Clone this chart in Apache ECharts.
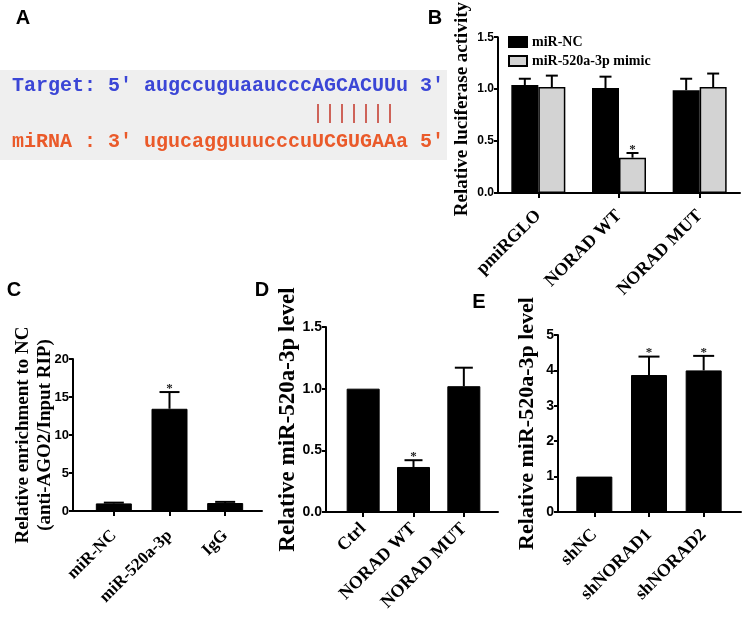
<!DOCTYPE html>
<html><head><meta charset="utf-8">
<script src="https://cdn.jsdelivr.net/npm/echarts@6/dist/echarts.min.js"></script>
<style>html,body{margin:0;padding:0;background:#fff}#chart{width:750px;height:627px}</style>
</head><body><div id="chart"></div>
<script>
// ---------- Panel A (sequence alignment) ----------
const targetLine = "Target: 5' augccuguaaucccAGCACUUu 3'";
const pairLine = "|||||||";
const mirnaLine = "miRNA : 3' ugucagguuucccuUCGUGAAa 5'";
const pairStartIndex = 25;

// ---------- Panel B ----------
const bCategories = ['pmiRGLO', 'NORAD WT', 'NORAD MUT'];
const bSeriesNames = ['miR-NC', 'miR-520a-3p mimic'];
const bNC = [1.04, 1.01, 0.99];
const bNCErr = [0.06, 0.11, 0.11];
const bNCSig = ['', '', ''];
const bMimic = [1.02, 0.34, 1.02];
const bMimicErr = [0.11, 0.045, 0.13];
const bMimicSig = ['', '*', ''];
const bTicks = [0, 0.5, 1.0, 1.5];
const bYName = 'Relative luciferase activity';

// ---------- Panel C ----------
const cCategories = ['miR-NC', 'miR-520a-3p', 'IgG'];
const cValues = [1.0, 13.45, 1.05];
const cErr = [0.1, 2.2, 0.15];
const cSig = ['', '*', ''];
const cTicks = [0, 5, 10, 15, 20];
const cYName = 'Relative enrichment to NC\n(anti-AGO2/Input RIP)';

// ---------- Panel D ----------
const dCategories = ['Ctrl', 'NORAD WT', 'NORAD MUT'];
const dValues = [1.0, 0.365, 1.02];
const dErr = [0, 0.055, 0.15];
const dSig = ['', '*', ''];
const dTicks = [0, 0.5, 1.0, 1.5];
const dYName = 'Relative miR-520a-3p level';

// ---------- Panel E ----------
const eCategories = ['shNC', 'shNORAD1', 'shNORAD2'];
const eValues = [1.0, 3.87, 4.0];
const eErr = [0, 0.52, 0.41];
const eSig = ['', '*', '*'];
const eTicks = [0, 1, 2, 3, 4, 5];
const eYName = 'Relative miR-520a-3p level';

const SERIF = '"Liberation Serif", "Times New Roman", serif';
const SANS = '"Liberation Sans", Arial, sans-serif';
const MONO = '"Liberation Mono", "Courier New", monospace';

const chart = echarts.init(document.getElementById('chart'), null, {renderer: 'canvas'});

function errRender(vals, errs, sigs, offsetPx, capW) {
  return function (params, api) {
    const i = api.value(0);
    const v = vals[i], e = errs[i];
    const base = api.coord([i, v]);
    const top = api.coord([i, v + e]);
    const x = base[0] + offsetPx;
    const children = [];
    if (e > 0) {
      children.push({type: 'line', shape: {x1: x, y1: base[1], x2: x, y2: top[1]}, style: {stroke: '#000', lineWidth: 2}});
      children.push({type: 'line', shape: {x1: x - capW / 2, y1: top[1], x2: x + capW / 2, y2: top[1]}, style: {stroke: '#000', lineWidth: 2}});
    }
    if (sigs[i]) {
      children.push({type: 'text', x: x, y: top[1] + 3, style: {text: sigs[i], font: 'bold 13px ' + SERIF, fill: '#222', textAlign: 'center', textVerticalAlign: 'bottom'}});
    }
    return {type: 'group', children: children};
  };
}

function yAxisVisible(gridIndex, ticks, fmt, name, gap, nameSize, labelSize, lineHeight, padding) {
  return {
    type: 'value', gridIndex: gridIndex, min: ticks[0], max: ticks[ticks.length - 1],
    interval: ticks[1] - ticks[0],
    axisLine: {show: true, lineStyle: {color: '#000', width: 2}},
    axisTick: {show: true, length: 4, lineStyle: {color: '#000', width: 2}},
    axisLabel: {color: '#000', fontFamily: SANS, fontWeight: 'bold', fontSize: labelSize, margin: 4,
      formatter: fmt},
    splitLine: {show: false},
    name: name, nameLocation: 'middle', nameRotate: 90, nameGap: gap, nameMoveOverlap: false,
    nameTextStyle: {color: '#000', fontFamily: SERIF, fontWeight: 'bold', fontSize: nameSize,
      lineHeight: lineHeight || nameSize * 1.2, padding: padding || 0}
  };
}
function yAxisHidden(gridIndex, ticks) {
  return {type: 'value', gridIndex: gridIndex, min: ticks[0], max: ticks[ticks.length - 1],
    interval: ticks[1] - ticks[0], show: false, splitLine: {show: false}};
}
function xAxisLineOnly(gridIndex, cats) {
  return {type: 'category', gridIndex: gridIndex, data: cats,
    axisLine: {show: true, lineStyle: {color: '#000', width: 2}},
    axisTick: {show: false}, axisLabel: {show: false}};
}
function xAxisLabels(gridIndex, cats, fontSize, margin, showLine) {
  return {type: 'category', gridIndex: gridIndex, data: cats,
    axisLine: {show: !!showLine, lineStyle: {color: '#000', width: 2}},
    axisTick: {show: true, alignWithLabel: true, length: 5, lineStyle: {color: '#000', width: 2}},
    axisLabel: {rotate: 45, color: '#000', fontFamily: SERIF, fontWeight: 'bold', fontSize: fontSize, margin: margin, interval: 0}};
}
const fmt1 = v => v.toFixed(1);
const fmt0 = v => String(v);

const option = {
  animation: false,
  backgroundColor: '#fff',
  grid: [
    {left: 498, top: 32, width: 242, height: 161},   // 0 B
    {left: 73, top: 359, width: 189, height: 152},   // 1 C outer
    {left: 86, top: 359, width: 167, height: 152},   // 2 C inner
    {left: 326, top: 327, width: 172, height: 185},  // 3 D outer
    {left: 338, top: 327, width: 151, height: 185},  // 4 D inner
    {left: 558, top: 335, width: 183, height: 177},  // 5 E outer
    {left: 567, top: 335, width: 164, height: 177}   // 6 E inner
  ],
  xAxis: [
    xAxisLabels(0, bCategories, 18, 20, true),
    xAxisLineOnly(1, cCategories),
    xAxisLabels(2, cCategories, 17, 22, false),
    xAxisLineOnly(3, dCategories),
    xAxisLabels(4, dCategories, 18, 14, false),
    xAxisLineOnly(5, eCategories),
    xAxisLabels(6, eCategories, 18, 20, false)
  ],
  yAxis: [
    yAxisVisible(0, bTicks, fmt1, bYName, 25, 19, 12, null, [0, 0, 0, 12]),
    yAxisVisible(1, cTicks, fmt0, cYName, 17, 19, 13, 22),
    yAxisHidden(2, cTicks),
    yAxisVisible(3, dTicks, fmt1, dYName, 24, 23, 14),
    yAxisHidden(4, dTicks),
    yAxisVisible(5, eTicks, fmt0, eYName, 17, 22, 14),
    yAxisHidden(6, eTicks)
  ],
  legend: {
    data: bSeriesNames, orient: 'vertical', left: 503, top: 30, itemWidth: 18, itemHeight: 10, itemGap: 5,
    icon: 'rect',
    textStyle: {color: '#000', fontFamily: SERIF, fontWeight: 'bold', fontSize: 14}
  },
  series: [
    {name: bSeriesNames[0], type: 'bar', xAxisIndex: 0, yAxisIndex: 0, data: bNC, barWidth: 27, barGap: '0%',
      itemStyle: {color: '#000', borderColor: '#000', borderWidth: 1.5}},
    {name: bSeriesNames[1], type: 'bar', xAxisIndex: 0, yAxisIndex: 0, data: bMimic, barWidth: 27, barGap: '0%',
      itemStyle: {color: '#d3d3d3', borderColor: '#000', borderWidth: 1.5}},
    {type: 'custom', xAxisIndex: 0, yAxisIndex: 0, z: 5, data: bNC.map((v, i) => [i, v]),
      renderItem: errRender(bNC, bNCErr, bNCSig, -13.5, 12)},
    {type: 'custom', xAxisIndex: 0, yAxisIndex: 0, z: 5, data: bMimic.map((v, i) => [i, v]),
      renderItem: errRender(bMimic, bMimicErr, bMimicSig, 13.5, 12)},

    {type: 'bar', xAxisIndex: 2, yAxisIndex: 2, data: cValues, barWidth: 36,
      itemStyle: {color: '#000', borderColor: '#000', borderWidth: 1}},
    {type: 'custom', xAxisIndex: 2, yAxisIndex: 2, z: 5, data: cValues.map((v, i) => [i, v]),
      renderItem: errRender(cValues, cErr, cSig, 0, 20)},

    {type: 'bar', xAxisIndex: 4, yAxisIndex: 4, data: dValues, barWidth: 33,
      itemStyle: {color: '#000', borderColor: '#000', borderWidth: 1}},
    {type: 'custom', xAxisIndex: 4, yAxisIndex: 4, z: 5, data: dValues.map((v, i) => [i, v]),
      renderItem: errRender(dValues, dErr, dSig, 0, 18)},

    {type: 'bar', xAxisIndex: 6, yAxisIndex: 6, data: eValues, barWidth: 36,
      itemStyle: {color: '#000', borderColor: '#000', borderWidth: 1}},
    {type: 'custom', xAxisIndex: 6, yAxisIndex: 6, z: 5, data: eValues.map((v, i) => [i, v]),
      renderItem: errRender(eValues, eErr, eSig, 0, 21)}
  ],
  graphic: [
    {type: 'rect', left: 0, top: 70, shape: {width: 447, height: 90}, style: {fill: '#efefef'}, z: -1},
    {type: 'text', x: 12, y: 86, style: {text: targetLine, font: 'bold 20px ' + MONO, fill: '#3b46d6', textVerticalAlign: 'middle'}},
    {type: 'text', x: 12 + pairStartIndex * 12, y: 114, style: {text: pairLine, font: '20px ' + MONO, fill: '#c8463a', textVerticalAlign: 'middle'}},
    {type: 'text', x: 12, y: 142, style: {text: mirnaLine, font: 'bold 20px ' + MONO, fill: '#ea5a2a', textVerticalAlign: 'middle'}},
    {type: 'text', x: 23, y: 18, style: {text: 'A', font: 'bold 20px ' + SANS, fill: '#000', textAlign: 'center', textVerticalAlign: 'middle'}},
    {type: 'text', x: 435, y: 18, style: {text: 'B', font: 'bold 20px ' + SANS, fill: '#000', textAlign: 'center', textVerticalAlign: 'middle'}},
    {type: 'text', x: 14, y: 290, style: {text: 'C', font: 'bold 20px ' + SANS, fill: '#000', textAlign: 'center', textVerticalAlign: 'middle'}},
    {type: 'text', x: 262, y: 290, style: {text: 'D', font: 'bold 20px ' + SANS, fill: '#000', textAlign: 'center', textVerticalAlign: 'middle'}},
    {type: 'text', x: 479, y: 302, style: {text: 'E', font: 'bold 20px ' + SANS, fill: '#000', textAlign: 'center', textVerticalAlign: 'middle'}}
  ]
};
chart.setOption(option);
</script>
</body></html>
